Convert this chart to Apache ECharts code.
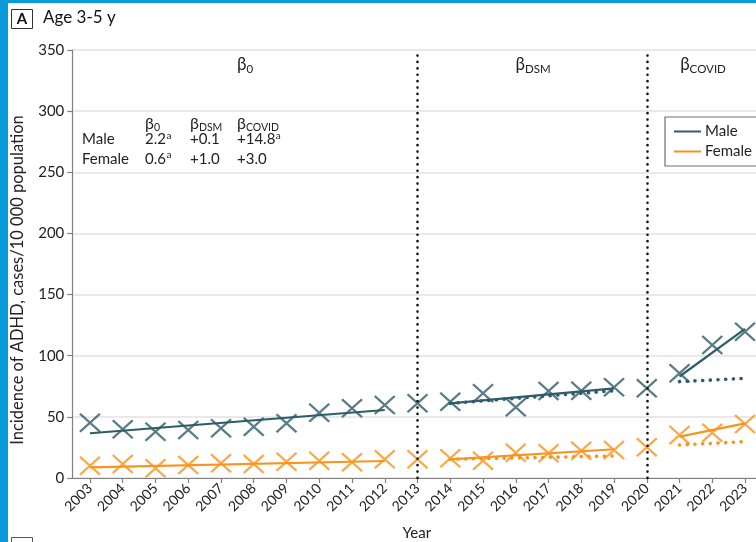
<!DOCTYPE html>
<html>
<head>
<meta charset="utf-8">
<script src="https://cdn.jsdelivr.net/npm/echarts@6/dist/echarts.min.js"></script>
<style>
  html, body { margin: 0; padding: 0; background: #fff; }
  #chart { width: 756px; height: 542px; }
</style>
</head>
<body>
<div id="chart"></div>
<script>
// Annual ADHD incidence, ages 3-5 y (cases per 10 000 population)
const years = [2003, 2004, 2005, 2006, 2007, 2008, 2009, 2010, 2011, 2012, 2013,
               2014, 2015, 2016, 2017, 2018, 2019, 2020, 2021, 2022, 2023];
const maleIncidence = [45.2, 39.8, 37.9, 39.3, 40.6, 41.9, 44.7, 53.4, 57.0, 59.7, 61.1,
                       62.4, 69.3, 57.8, 71.1, 71.4, 74.2, 73.4, 85.6, 108.8, 119.6];
const femaleIncidence = [10.1, 11.4, 7.9, 10.6, 12.0, 11.4, 13.3, 14.1, 12.8, 15.3, 15.3,
                         16.1, 14.1, 20.7, 20.2, 22.3, 22.9, 25.1, 35.2, 37.0, 44.2];

// Segmented regression: fitted segments (solid) and counterfactual trends (dotted)
const maleFitPre = [[2003, 36.6], [2012, 55.6]];
const maleFitDsm = [[2014, 61.1], [2019, 73.3]];
const maleCfDsm = [[2014, 61.0], [2019, 71.4]];
const maleFitCovid = [[2021, 83.0], [2023, 122.0]];
const maleCfCovid = [[2021, 78.8], [2023, 81.5]];

const femaleFitPre = [[2003, 8.7], [2012, 13.9]];
const femaleFitDsm = [[2014, 15.3], [2019, 23.5]];
const femaleCfDsm = [[2014, 15.3], [2019, 18.0]];
const femaleFitCovid = [[2021, 33.8], [2023, 44.7]];
const femaleCfCovid = [[2021, 27.0], [2023, 29.7]];

// Interruption points (DSM-5 release, COVID-19)
const breakYears = [2013, 2020];

// Coefficient table
const coefNames = ['0', 'DSM', 'COVID'];
const maleCoefs = ['2.2', '+0.1', '+14.8'];
const maleSignif = [true, false, true];
const femaleCoefs = ['0.6', '+1.0', '+3.0'];
const femaleSignif = [true, false, false];

const FONT = 'Lato, "Liberation Sans", sans-serif';
const MALE = '#2e5c68';
const FEMALE = '#f7941d';
const INK = '#222';

const chart = echarts.init(document.getElementById('chart'), null, { renderer: 'canvas' });

const cross = 'path://M0,0L20,18M20,0L0,18';

function scatter(name, values, color) {
  return {
    name, type: 'scatter', z: 3,
    data: years.map((y, i) => [y, values[i]]),
    symbol: cross, symbolSize: [20, 18],
    itemStyle: { color: 'none', borderColor: color, borderWidth: 2.3 },
    silent: true
  };
}
function solid(name, data, color) {
  return {
    name, type: 'line', data, showSymbol: false, z: 4, silent: true,
    lineStyle: { color, width: 2.2 }, itemStyle: { color }
  };
}
function dotted(name, data, color) {
  return {
    name, type: 'line', data, showSymbol: false, z: 4, silent: true,
    lineStyle: { color, width: 3.6, type: [0.1, 7.6], cap: 'round' }, itemStyle: { color }
  };
}

// text measuring for composed labels (subscripts / superscripts)
const measureCtx = document.createElement('canvas').getContext('2d');
function textWidth(str, font) { measureCtx.font = font; return measureCtx.measureText(str).width; }

// β with a subscript; cy is the vertical centre of β
function betaLabel(x, cy, sub, size, subSize, subDrop, centered) {
  const bFont = size + 'px ' + FONT;
  const sFont = subSize + 'px ' + FONT;
  const wb = textWidth('β', bFont);
  const ws = textWidth(sub, sFont);
  const x0 = centered ? x - (wb + ws) / 2 : x;
  return [
    { type: 'text', x: x0, y: cy, style: { text: 'β', font: bFont, fill: INK, verticalAlign: 'middle' } },
    { type: 'text', x: x0 + wb, y: cy + subDrop, style: { text: sub, font: sFont, fill: INK, verticalAlign: 'middle' } }
  ];
}
// coefficient with optional superscript significance mark
function coefLabel(x, cy, value, sig) {
  const font = '15px ' + FONT;
  const out = [{ type: 'text', x, y: cy, style: { text: value, font, fill: INK, verticalAlign: 'middle' } }];
  if (sig) {
    out.push({ type: 'text', x: x + textWidth(value, font) + 0.5, y: cy - 4,
               style: { text: 'a', font: '10px ' + FONT, fill: INK, verticalAlign: 'middle' } });
  }
  return out;
}

const tableCols = [145, 190, 237];
const rowMale = 139.5, rowFemale = 159;
const graphics = [
  // panel frame
  { type: 'rect', shape: { x: 0, y: 0, width: 8, height: 542 }, style: { fill: '#0b9ad9' } },
  { type: 'rect', shape: { x: 0, y: 0, width: 756, height: 3 }, style: { fill: '#0b9ad9' } },
  { type: 'rect', shape: { x: 11.5, y: 9.5, width: 21, height: 19 }, style: { fill: '#fff', stroke: '#333', lineWidth: 1 } },
  { type: 'text', x: 22, y: 19, style: { text: 'A', font: 'bold 15px ' + FONT, fill: '#111', align: 'center', verticalAlign: 'middle' } },
  { type: 'text', x: 43, y: 18, style: { text: 'Age 3-5 y', font: '17px ' + FONT, fill: '#111', verticalAlign: 'middle' } },
  { type: 'rect', shape: { x: 11.5, y: 537.5, width: 21, height: 19 }, style: { fill: '#fff', stroke: '#555', lineWidth: 1 } },
  // y axis title
  { type: 'text', x: 18, y: 280, rotation: Math.PI / 2,
    style: { text: 'Incidence of ADHD, cases/10 000 population', font: '16.5px ' + FONT, fill: INK, align: 'center', verticalAlign: 'middle' } },
  // row labels of the coefficient table
  { type: 'text', x: 82, y: rowMale, style: { text: 'Male', font: '15px ' + FONT, fill: INK, verticalAlign: 'middle' } },
  { type: 'text', x: 82, y: rowFemale, style: { text: 'Female', font: '15px ' + FONT, fill: INK, verticalAlign: 'middle' } }
];
// segment labels above the plot
graphics.push(...betaLabel(245, 65, '0', 17, 11.5, 4, true));
graphics.push(...betaLabel(533, 65, 'DSM', 17, 11.5, 4, true));
graphics.push(...betaLabel(703, 65, 'COVID', 17, 11.5, 4, true));
// coefficient table
coefNames.forEach((n, i) => {
  graphics.push(...betaLabel(tableCols[i], 124, n, 16, 10.5, 3.5, false));
  graphics.push(...coefLabel(tableCols[i], rowMale, maleCoefs[i], maleSignif[i]));
  graphics.push(...coefLabel(tableCols[i], rowFemale, femaleCoefs[i], femaleSignif[i]));
});

chart.setOption({
  animation: false,
  backgroundColor: '#fff',
  textStyle: { fontFamily: FONT },
  grid: { left: 72.3, top: 50, right: -5.4, bottom: 64, containLabel: false, outerBoundsMode: 'none' },
  xAxis: {
    type: 'value', min: 2002.46, max: 2023.5,
    name: 'Year', nameLocation: 'middle', nameGap: 48,
    nameTextStyle: { fontSize: 15, color: INK, fontFamily: FONT },
    axisLine: { show: true, onZero: false, lineStyle: { color: '#808080', width: 1.2 } },
    axisTick: { show: true, customValues: years, length: 5, lineStyle: { color: '#808080', width: 1.2 } },
    axisLabel: { customValues: years, rotate: 45, fontSize: 14, color: INK, margin: 8, fontFamily: FONT,
                 formatter: v => String(v) },
    splitLine: { show: false }
  },
  yAxis: {
    type: 'value', min: 0, max: 350, interval: 50,
    axisLine: { show: true, lineStyle: { color: '#808080', width: 1.2 } },
    axisTick: { show: true, length: 5, lineStyle: { color: '#808080', width: 1.2 } },
    axisLabel: { fontSize: 15, color: INK, margin: 8, fontFamily: FONT },
    splitLine: { lineStyle: { color: '#e2e2e2', width: 1.6 } }
  },
  legend: {
    orient: 'vertical', left: 665, top: 117,
    data: [{ name: 'Male', icon: 'rect' }, { name: 'Female', icon: 'rect' }],
    itemWidth: 27, itemHeight: 2, itemGap: 5,
    padding: [7, 40, 7, 9],
    borderColor: '#6e6e6e', borderWidth: 1.2, backgroundColor: '#fff',
    textStyle: { fontSize: 15, color: INK, fontFamily: FONT, padding: [0, 0, 0, -1] },
    selectedMode: false
  },
  series: [
    solid('Male', maleFitPre, MALE),
    solid('Female', femaleFitPre, FEMALE),
    {
      type: 'line', data: [], silent: true,
      markLine: {
        symbol: 'none', silent: true, label: { show: false },
        lineStyle: { color: '#111', width: 2.6, type: [0.1, 6.3], cap: 'round' },
        data: breakYears.map(y => ({ xAxis: y }))
      }
    },
    scatter('Male', maleIncidence, MALE),
    scatter('Female', femaleIncidence, FEMALE),
    solid('Male', maleFitDsm, MALE),
    dotted('Male', maleCfDsm, MALE),
    solid('Male', maleFitCovid, MALE),
    dotted('Male', maleCfCovid, MALE),
    solid('Female', femaleFitDsm, FEMALE),
    dotted('Female', femaleCfDsm, FEMALE),
    solid('Female', femaleFitCovid, FEMALE),
    dotted('Female', femaleCfCovid, FEMALE)
  ],
  graphic: graphics
});
</script>
</body>
</html>
